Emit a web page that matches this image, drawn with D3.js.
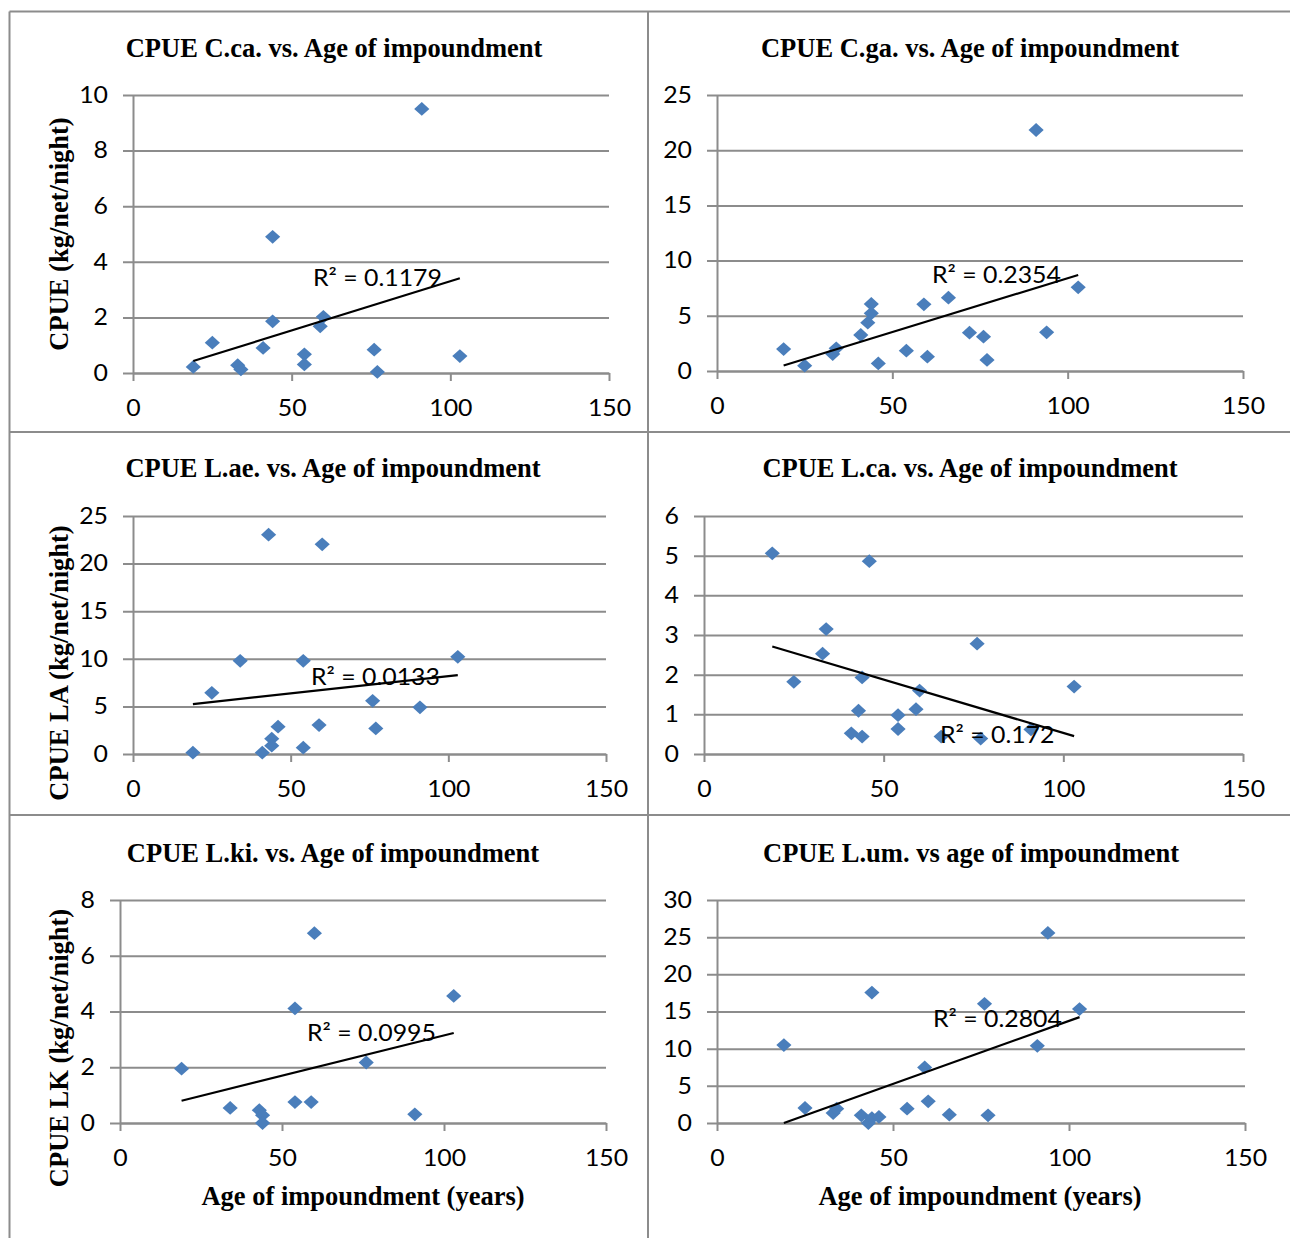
<!DOCTYPE html>
<html>
<head>
<meta charset="utf-8">
<script src="https://cdn.jsdelivr.net/npm/d3@7"></script>
<style>
  body { margin: 0; background: #fff; }
  .title, .axis-title { font-family: "Liberation Serif", serif; font-weight: bold; font-size: 26.5px; }
  .tick text, .r2 { font-family: Lato, "Open Sans", sans-serif; font-size: 23px; fill: #000; }
</style>
</head>
<body>
<div id="chart"></div>
<script>
// ages (years) and CPUE (kg/net/night) for each species
var ccaAge  = [19, 25, 33, 34, 41, 44, 44, 54, 54, 59, 60, 76, 77, 91, 103];
var ccaCpue = [0.22, 1.09, 0.28, 0.13, 0.9, 1.86, 4.9, 0.67, 0.31, 1.68, 2.02, 0.84, 0.04, 9.5, 0.61];
var ccaTrend = [[19, 0.43], [103, 3.41]];

var cgaAge  = [19, 25, 33, 34, 41, 43, 44, 44, 46, 54, 59, 60, 66, 72, 76, 77, 91, 94, 103];
var cgaCpue = [1.99, 0.48, 1.54, 2.05, 3.26, 4.38, 5.22, 6.07, 0.69, 1.84, 6.04, 1.3, 6.64, 3.47, 3.11, 1.0, 21.83, 3.5, 7.58];
var cgaTrend = [[19, 0.5], [103, 8.7]];

var laeAge  = [19, 25, 34, 41, 43, 44, 44, 46, 54, 54, 59, 60, 76, 77, 91, 103];
var laeCpue = [0.14, 6.43, 9.79, 0.14, 23.04, 1.61, 0.87, 2.87, 9.79, 0.66, 3.04, 22.03, 5.59, 2.69, 4.9, 10.21];
var laeTrend = [[19, 5.24], [103, 8.29]];

var lcaAge  = [19, 25, 33, 34, 41, 43, 44, 44, 46, 54, 54, 59, 60, 66, 76, 77, 91, 103];
var lcaCpue = [5.06, 1.82, 2.53, 3.15, 0.52, 1.09, 1.93, 0.44, 4.86, 0.98, 0.63, 1.13, 1.6, 0.44, 2.78, 0.39, 0.62, 1.7];
var lcaTrend = [[19, 2.71], [103, 0.45]];

var lkiAge  = [19, 34, 43, 44, 44, 54, 54, 59, 60, 76, 91, 103];
var lkiCpue = [1.95, 0.54, 0.46, 0.28, 0.0, 4.11, 0.75, 0.75, 6.81, 2.17, 0.31, 4.56];
var lkiTrend = [[19, 0.8], [103, 3.23]];

var lumAge  = [19, 25, 33, 34, 41, 43, 44, 44, 46, 54, 59, 60, 66, 76, 77, 91, 94, 103];
var lumCpue = [10.48, 2.02, 1.34, 1.93, 1.03, 0.0, 0.67, 17.55, 0.81, 1.93, 7.48, 2.91, 1.12, 16.03, 1.03, 10.39, 25.57, 15.32];
var lumTrend = [[19, 0], [103, 14.24]];

var xTicks = [0, 50, 100, 150];
var ccaTicks = [0, 2, 4, 6, 8, 10];
var cgaTicks = [0, 5, 10, 15, 20, 25];
var laeTicks = [0, 5, 10, 15, 20, 25];
var lcaTicks = [0, 1, 2, 3, 4, 5, 6];
var lkiTicks = [0, 2, 4, 6, 8];
var lumTicks = [0, 5, 10, 15, 20, 25, 30];

var titles = [
  "CPUE C.ca. vs. Age of impoundment",
  "CPUE C.ga. vs. Age of impoundment",
  "CPUE L.ae. vs. Age of impoundment",
  "CPUE L.ca. vs. Age of impoundment",
  "CPUE L.ki. vs. Age of impoundment",
  "CPUE L.um. vs age of impoundment"
];
var r2Labels = ["R\u00b2 = 0.1179", "R\u00b2 = 0.2354", "R\u00b2 = 0.0133", "R\u00b2 = 0.172", "R\u00b2 = 0.0995", "R\u00b2 = 0.2804"];
var yTitles = ["CPUE (kg/net/night)", null, "CPUE LA (kg/net/night)", null, "CPUE LK (kg/net/night)", null];
var xTitle = "Age of impoundment  (years)";

var panels = [
  {age: ccaAge, cpue: ccaCpue, trend: ccaTrend, ticks: ccaTicks, box: {x0: 133, x1: 609, y0: 95, y1: 373}, tx: 334, ty: 57, rx: 313, ry: 286, yty: 234},
  {age: cgaAge, cpue: cgaCpue, trend: cgaTrend, ticks: cgaTicks, box: {x0: 717, x1: 1243, y0: 95, y1: 371}, tx: 970, ty: 57, rx: 932, ry: 283},
  {age: laeAge, cpue: laeCpue, trend: laeTrend, ticks: laeTicks, box: {x0: 133, x1: 606, y0: 516, y1: 754}, tx: 333, ty: 477, rx: 311, ry: 685, yty: 663},
  {age: lcaAge, cpue: lcaCpue, trend: lcaTrend, ticks: lcaTicks, box: {x0: 704, x1: 1243, y0: 516, y1: 754}, tx: 970, ty: 477, rx: 940, ry: 743},
  {age: lkiAge, cpue: lkiCpue, trend: lkiTrend, ticks: lkiTicks, box: {x0: 120, x1: 606, y0: 900, y1: 1123}, tx: 333, ty: 862, rx: 307, ry: 1041, yty: 1048, xtx: 363},
  {age: lumAge, cpue: lumCpue, trend: lumTrend, ticks: lumTicks, box: {x0: 717, x1: 1245, y0: 900, y1: 1123}, tx: 971, ty: 862, rx: 933, ry: 1027, xtx: 980}
];

var gridColor = "#8c8c8c";
var dotColor = "#4a7ebb";

var svg = d3.select("#chart").append("svg")
    .attr("width", 1290)
    .attr("height", 1238);

// widen sans text a little to mimic the original
function stretch(sel, k) {
    sel.each(function() {
        var l = this.getComputedTextLength();
        d3.select(this).attr("textLength", l * k).attr("lengthAdjust", "spacingAndGlyphs");
    });
}

// frame lines between panels
var frame = [
  [9.5, 11.5, 1290, 11.5], [9.5, 11.5, 9.5, 1238], [648, 11.5, 648, 1238],
  [9.5, 432, 1290, 432], [9.5, 815, 1290, 815]
];
svg.selectAll(".frame").data(frame).enter().append("line")
    .attr("class", "frame")
    .attr("x1", function(d) { return d[0]; })
    .attr("y1", function(d) { return d[1]; })
    .attr("x2", function(d) { return d[2]; })
    .attr("y2", function(d) { return d[3]; })
    .attr("stroke", gridColor)
    .attr("stroke-width", 2);

panels.forEach(function(p, i) {
    var w = p.box.x1 - p.box.x0;
    var h = p.box.y1 - p.box.y0;
    var ymax = p.ticks[p.ticks.length - 1];

    var x = d3.scaleLinear().domain([0, 150]).range([0, w]);
    var y = d3.scaleLinear().domain([0, ymax]).range([h, 0]);

    var g = svg.append("g")
        .attr("transform", "translate(" + p.box.x0 + "," + p.box.y0 + ")");

    var yAxis = g.append("g")
        .call(d3.axisLeft(y).tickValues(p.ticks).tickFormat(d3.format("d"))
            .tickSize(-w).tickSizeOuter(0).tickPadding(25));
    yAxis.selectAll(".tick line").attr("x1", -10);
    yAxis.selectAll("line, path").attr("stroke", gridColor).attr("stroke-width", 2);
    stretch(yAxis.selectAll("text"), 1.08);

    var xAxis = g.append("g")
        .attr("transform", "translate(0," + h + ")")
        .call(d3.axisBottom(x).tickValues(xTicks).tickFormat(d3.format("d"))
            .tickSize(8).tickSizeOuter(0).tickPadding(19));
    xAxis.selectAll("line, path").attr("stroke", gridColor).attr("stroke-width", 2);
    stretch(xAxis.selectAll("text"), 1.08);

    var pts = p.age.map(function(a, j) { return [a, p.cpue[j]]; });
    g.selectAll(".pt").data(pts).enter().append("path")
        .attr("class", "pt")
        .attr("d", d3.symbol(d3.symbolSquare, 95))
        .attr("transform", function(d) {
            return "translate(" + x(d[0]) + "," + y(d[1]) + ") scale(1.1,1) rotate(45)";
        })
        .attr("fill", dotColor);

    g.append("path")
        .datum(p.trend)
        .attr("d", d3.line().x(function(d) { return x(d[0]); }).y(function(d) { return y(d[1]); }))
        .attr("stroke", "#000")
        .attr("stroke-width", 2.2)
        .attr("fill", "none");

    var r2 = svg.append("text")
        .attr("class", "r2")
        .attr("x", p.rx)
        .attr("y", p.ry)
        .text(r2Labels[i]);
    stretch(r2, 1.08);

    svg.append("text")
        .attr("class", "title")
        .attr("x", p.tx)
        .attr("y", p.ty)
        .attr("text-anchor", "middle")
        .text(titles[i]);

    if (yTitles[i]) {
        svg.append("text")
            .attr("class", "axis-title")
            .attr("transform", "translate(68," + p.yty + ") rotate(-90)")
            .attr("text-anchor", "middle")
            .text(yTitles[i]);
    }
    if (p.xtx) {
        svg.append("text")
            .attr("class", "axis-title")
            .attr("x", p.xtx)
            .attr("y", 1205)
            .attr("text-anchor", "middle")
            .text(xTitle);
    }
});
</script>
</body>
</html>
